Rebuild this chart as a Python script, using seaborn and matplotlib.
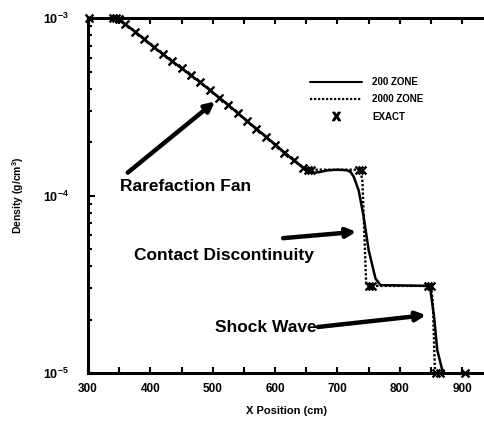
import seaborn as sns
import matplotlib.pyplot as plt
from matplotlib.lines import Line2D
from matplotlib.ticker import MultipleLocator, FixedLocator, LogLocator, NullFormatter

# exact solution
exact_x = [302, 340, 345, 350, 360, 375, 390, 405, 420, 435, 450, 465, 480, 495,
           510, 525, 540, 555, 570, 585, 600, 615, 630, 645, 652, 658,
           735, 740, 750, 755, 845, 850, 858, 865, 905]
exact_y = [1.0e-3, 1.0e-3, 1.0e-3, 9.9e-4, 9.23e-4, 8.41e-4, 7.62e-4, 6.89e-4, 6.27e-4,
           5.71e-4, 5.22e-4, 4.76e-4, 4.35e-4, 3.94e-4, 3.57e-4, 3.24e-4, 2.92e-4,
           2.63e-4, 2.38e-4, 2.15e-4, 1.94e-4, 1.75e-4, 1.58e-4, 1.44e-4, 1.40e-4,
           1.40e-4, 1.40e-4, 1.40e-4, 3.1e-5, 3.1e-5, 3.1e-5, 3.1e-5, 1.0e-5, 1.0e-5, 1.0e-5]

# 200 zone run (smeared)
z200_x = [300, 335, 345, 360, 375, 390, 405, 420, 435, 450, 465, 480, 495, 510, 525,
          540, 555, 570, 585, 600, 615, 630, 645, 652, 660, 672, 685, 700, 715, 721,
          726, 734, 742, 750, 761, 769, 800, 844, 849, 855, 860, 868, 872, 880]
z200_y = [1.0e-3, 1.0e-3, 9.9e-4, 9.23e-4, 8.41e-4, 7.62e-4, 6.89e-4, 6.27e-4, 5.71e-4,
          5.22e-4, 4.76e-4, 4.35e-4, 3.94e-4, 3.57e-4, 3.24e-4, 2.92e-4, 2.63e-4,
          2.38e-4, 2.15e-4, 1.94e-4, 1.75e-4, 1.58e-4, 1.44e-4, 1.37e-4, 1.34e-4,
          1.36e-4, 1.39e-4, 1.40e-4, 1.39e-4, 1.36e-4, 1.28e-4, 1.07e-4, 7.6e-5,
          4.93e-5, 3.41e-5, 3.13e-5, 3.12e-5, 3.1e-5, 2.95e-5, 2.07e-5, 1.35e-5,
          1.04e-5, 1.0e-5, 9.0e-6]

# 2000 zone run (sharp)
z2000_x = [300, 342, 350, 360, 375, 390, 405, 420, 435, 450, 465, 480, 495, 510, 525,
           540, 555, 570, 585, 600, 615, 630, 645, 652, 737, 740, 744, 746, 750, 850,
           853, 856, 858]
z2000_y = [1.0e-3, 1.0e-3, 9.9e-4, 9.23e-4, 8.41e-4, 7.62e-4, 6.89e-4, 6.27e-4, 5.71e-4,
           5.22e-4, 4.76e-4, 4.35e-4, 3.94e-4, 3.57e-4, 3.24e-4, 2.92e-4, 2.63e-4,
           2.38e-4, 2.15e-4, 1.94e-4, 1.75e-4, 1.58e-4, 1.44e-4, 1.40e-4, 1.40e-4,
           1.2e-4, 5.0e-5, 3.2e-5, 3.1e-5, 3.1e-5, 2.5e-5, 1.1e-5, 9.0e-6]

x_ticks = [300, 400, 500, 600, 700, 800, 900]
y_ticks = [1e-5, 1e-4, 1e-3]
y_ticklabels = [r'$\mathbf{10^{-5}}$', r'$\mathbf{10^{-4}}$', r'$\mathbf{10^{-3}}$']

sns.set_style("ticks")
plt.rcParams['font.family'] = ['Liberation Sans', 'DejaVu Sans']
plt.rcParams['mathtext.fontset'] = 'custom'
plt.rcParams['mathtext.rm'] = 'Liberation Sans'
plt.rcParams['mathtext.bf'] = 'Liberation Sans:bold'
for key in ['text.color', 'axes.labelcolor', 'xtick.color', 'ytick.color', 'axes.edgecolor']:
    plt.rcParams[key] = 'black'

fig = plt.figure(figsize=(4.84, 4.23), dpi=100)
ax = fig.add_axes([0.182, 0.118, 0.818, 0.839])

sns.lineplot(x=z200_x, y=z200_y, ax=ax, color='black', lw=1.8, sort=False)
sns.lineplot(x=z2000_x, y=z2000_y, ax=ax, color='black', lw=1.7,
             linestyle=(0, (1, 0.8)), sort=False)
sns.scatterplot(x=exact_x, y=exact_y, ax=ax, marker='x', color='black', s=32,
                linewidth=1.7, clip_on=False, zorder=5)

ax.set_yscale('log')
ax.set_xlim(300, 935)
ax.set_ylim(1e-5, 1e-3)

ax.xaxis.set_major_locator(FixedLocator(x_ticks))
ax.xaxis.set_minor_locator(MultipleLocator(50))
ax.yaxis.set_major_locator(FixedLocator(y_ticks))
ax.yaxis.set_minor_locator(LogLocator(base=10, subs=range(2, 10)))
ax.yaxis.set_minor_formatter(NullFormatter())
ax.set_xticklabels([str(t) for t in x_ticks], fontsize=8.5, fontweight='bold')
ax.set_yticklabels(y_ticklabels, fontsize=9)

ax.tick_params(axis='both', which='both', direction='in', width=1.5)
ax.tick_params(axis='x', which='both', top=True, length=4)
ax.tick_params(axis='y', which='major', length=5)
ax.tick_params(axis='y', which='minor', length=3)
ax.tick_params(axis='x', pad=7)
ax.tick_params(axis='y', pad=14)

for side in ['left', 'bottom', 'top']:
    ax.spines[side].set_linewidth(2.2)
ax.spines['right'].set_visible(False)

ax.set_xlabel('X Position (cm)', fontsize=8, fontweight='bold', labelpad=8)
ax.set_ylabel(r'Density (g/cm$^{\mathbf{3}}$)', fontsize=7.5, fontweight='bold', labelpad=12)

# annotations
big = dict(fontsize=12.5, fontweight='bold', ha='center', va='center')
arrow = dict(arrowstyle='-|>', lw=3.2, color='black', mutation_scale=14, shrinkA=0, shrinkB=0)
fig.text(0.384, 0.560, 'Rarefaction Fan', **big)
ax.annotate('', xy=(0.444, 0.760), xytext=(0.264, 0.592), xycoords='figure fraction',
            textcoords='figure fraction', arrowprops=arrow)
fig.text(0.463, 0.395, 'Contact Discontinuity', **big)
ax.annotate('', xy=(0.736, 0.452), xytext=(0.585, 0.437), xycoords='figure fraction',
            textcoords='figure fraction', arrowprops=arrow)
fig.text(0.550, 0.225, 'Shock Wave', **big)
ax.annotate('', xy=(0.880, 0.255), xytext=(0.657, 0.227), xycoords='figure fraction',
            textcoords='figure fraction', arrowprops=arrow)

handles = [Line2D([], [], color='black', lw=1.5),
           Line2D([], [], color='black', lw=1.6, linestyle=(0, (1, 0.8))),
           Line2D([], [], color='black', lw=0, marker=r'$\mathbf{X}$', markersize=6)]
fig.legend(handles, ['200 ZONE', '2000 ZONE', 'EXACT'], loc='upper left',
           bbox_to_anchor=(0.640, 0.818), frameon=False,
           prop={'weight': 'bold', 'size': 7}, handlelength=5.4, handletextpad=1.0,
           labelspacing=0.75, borderpad=0, borderaxespad=0)

fig.savefig('out.png', dpi=100)
